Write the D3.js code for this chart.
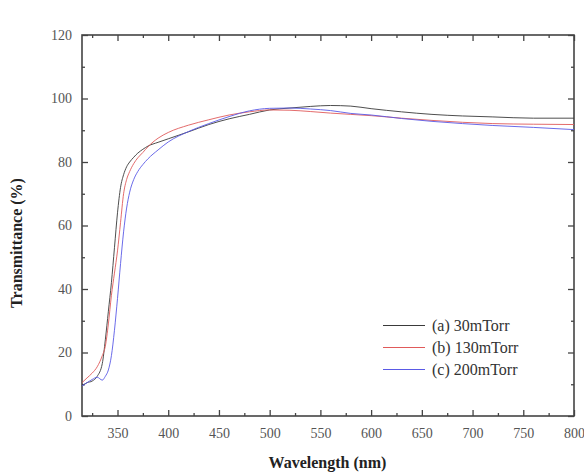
<!DOCTYPE html>
<html>
<head>
<meta charset="utf-8">
<script src="https://cdn.jsdelivr.net/npm/d3@7"></script>
<style>
  body { margin: 0; background: #fff; }
  text { font-family: "Liberation Serif", "Times New Roman", serif; }
</style>
</head>
<body>
<div id="chart"></div>
<script>
// wavelength grid (nm), shared by all three spectra
const wavelengths = [315, 320, 325, 330, 335, 338, 341, 344, 347, 350, 353, 356, 359, 362, 366, 370, 375, 380,
  390, 400, 420, 440, 460, 480, 500, 520, 540, 560, 580, 600, 630, 660, 690, 720, 760, 800];

const t30 = [9.5, 10.5, 11.0, 12.5, 16.5, 24, 33, 42, 53, 64, 72, 76, 78.5, 80, 81.5, 82.8, 84, 85,
  86.2, 87.3, 89.5, 91.8, 93.6, 95.0, 96.4, 97.0, 97.5, 97.8, 97.6, 96.8, 95.8, 95.0, 94.5, 94.2, 93.8, 93.8];
const t130 = [10.5, 12, 13.5, 15.5, 19, 22, 29, 38, 45, 52, 61, 70, 74.5, 77, 79.5, 81.3, 83, 84.8,
  87.5, 89.3, 91.6, 93.3, 94.8, 95.8, 96.4, 96.3, 95.9, 95.4, 95.0, 94.6, 93.8, 93.1, 92.5, 92.1, 91.9, 91.8];
const t200 = [9.5, 10.5, 11.5, 12.2, 11.3, 12.5, 14.5, 19, 27, 37, 48, 58, 65.5, 70.5, 74.5, 77, 79.2, 81,
  83.8, 86.3, 89.6, 92.1, 94.3, 96.1, 96.9, 97.0, 96.7, 96.2, 95.3, 94.8, 93.7, 92.8, 92.1, 91.5, 90.9, 90.2];

const seriesNames = ["(a) 30mTorr", "(b) 130mTorr", "(c) 200mTorr"];
const seriesColors = ["#3a3a3a", "#e05a5a", "#5a5ae6"];

const xTicks = [350, 400, 450, 500, 550, 600, 650, 700, 750, 800];
const yTicks = [0, 20, 40, 60, 80, 100, 120];

const width = 584, height = 475;
const margin = { top: 35, right: 10, bottom: 59, left: 82 };

const svg = d3.select("#chart").append("svg")
  .attr("width", width)
  .attr("height", height);

const x = d3.scaleLinear().domain([315, 800]).range([margin.left, width - margin.right]);
const y = d3.scaleLinear().domain([0, 120]).range([height - margin.bottom, margin.top]);

const axisColor = "#444";
const labelColor = "#555";

// minor ticks every 25 nm / 10 %
const xMinor = d3.range(325, 800, 50);
const yMinor = d3.range(10, 120, 20);

function styleAxis(g) {
  g.select(".domain").remove();
  g.selectAll(".tick line").attr("stroke", axisColor).attr("stroke-width", 1.3);
  g.selectAll(".tick text").attr("fill", labelColor).attr("font-size", 14);
}

// bottom axis, ticks pointing inward
const bottom = svg.append("g")
  .attr("transform", `translate(0,${y(0)})`)
  .call(d3.axisBottom(x).tickValues(xTicks).tickSize(-6).tickPadding(12).tickFormat(d3.format("d")))
  .call(styleAxis);
bottom.selectAll(".tick text").attr("dy", "0.71em");
svg.append("g")
  .attr("transform", `translate(0,${y(0)})`)
  .call(d3.axisBottom(x).tickValues(xMinor).tickSize(-3).tickFormat(""))
  .call(styleAxis);

// top axis mirrored
svg.append("g")
  .attr("transform", `translate(0,${y(120)})`)
  .call(d3.axisTop(x).tickValues(xTicks).tickSize(-6).tickFormat(""))
  .call(styleAxis);
svg.append("g")
  .attr("transform", `translate(0,${y(120)})`)
  .call(d3.axisTop(x).tickValues(xMinor).tickSize(-3).tickFormat(""))
  .call(styleAxis);

// left axis
svg.append("g")
  .attr("transform", `translate(${x(315)},0)`)
  .call(d3.axisLeft(y).tickValues(yTicks).tickSize(-6).tickPadding(10))
  .call(styleAxis);
svg.append("g")
  .attr("transform", `translate(${x(315)},0)`)
  .call(d3.axisLeft(y).tickValues(yMinor).tickSize(-3).tickFormat(""))
  .call(styleAxis);

// right axis mirrored
svg.append("g")
  .attr("transform", `translate(${x(800)},0)`)
  .call(d3.axisRight(y).tickValues(yTicks).tickSize(-6).tickFormat(""))
  .call(styleAxis);
svg.append("g")
  .attr("transform", `translate(${x(800)},0)`)
  .call(d3.axisRight(y).tickValues(yMinor).tickSize(-3).tickFormat(""))
  .call(styleAxis);

// frame
svg.append("rect")
  .attr("x", x(315)).attr("y", y(120))
  .attr("width", x(800) - x(315)).attr("height", y(0) - y(120))
  .attr("fill", "none")
  .attr("stroke", axisColor)
  .attr("stroke-width", 1.6);

// spectra
const line = d3.line()
  .x((d, i) => x(wavelengths[i]))
  .y(d => y(d))
  .curve(d3.curveMonotoneX);

[t30, t130, t200].forEach((vals, i) => {
  svg.append("path")
    .datum(vals)
    .attr("fill", "none")
    .attr("stroke", seriesColors[i])
    .attr("stroke-width", 0.9)
    .attr("d", line);
});

// legend
const legend = svg.append("g").attr("transform", "translate(383,325.5)");
seriesNames.forEach((name, i) => {
  const row = legend.append("g").attr("transform", `translate(0,${i * 22})`);
  row.append("line")
    .attr("x1", 0).attr("x2", 42)
    .attr("y1", 0).attr("y2", 0)
    .attr("stroke", seriesColors[i])
    .attr("stroke-width", 1);
  row.append("text")
    .attr("x", 49).attr("y", 0)
    .attr("dy", "0.35em")
    .attr("font-size", 16)
    .attr("fill", "#333")
    .text(name);
});

// axis titles
svg.append("text")
  .attr("x", x(557))
  .attr("y", 462)
  .attr("dy", "0.35em")
  .attr("text-anchor", "middle")
  .attr("font-size", 16)
  .attr("font-weight", "bold")
  .attr("fill", "#222")
  .text("Wavelength (nm)");

svg.append("text")
  .attr("transform", `translate(16,${243}) rotate(-90)`)
  .attr("dy", "0.35em")
  .attr("text-anchor", "middle")
  .attr("font-size", 16)
  .attr("font-weight", "bold")
  .attr("fill", "#222")
  .text("Transmittance (%)");
</script>
</body>
</html>
